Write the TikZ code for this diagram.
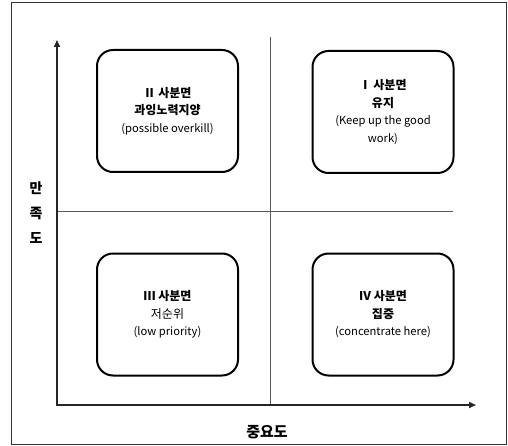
\documentclass[tikz,border=0pt]{standalone}
\usepackage{fontspec}
\setmainfont{Noto Sans CJK KR}
\usetikzlibrary{arrows.meta}
\newcommand{\kr}[1]{{\fontsize{12}{17.5}\selectfont\bfseries #1}}
\newcommand{\krn}[1]{{\fontsize{12}{17.5}\selectfont #1}}
\begin{document}
\begin{tikzpicture}[x=1pt,y=-1pt,
  quad/.style={draw=black,line width=2pt,rounded corners=16pt,minimum width=141pt,minimum height=122pt,align=center,font=\fontsize{11.2}{17.5}\selectfont,inner sep=0pt},
  axis/.style={line width=1.6pt,draw=black!85,{Triangle[length=7pt,width=6pt]}-{Triangle[length=7pt,width=6pt]}},
  divider/.style={line width=1pt,draw=black!65},
  axlabel/.style={font=\fontsize{14}{25}\selectfont\bfseries,align=center,inner sep=0pt}]
\useasboundingbox (0,0) rectangle (508,446);
\draw[line width=1.4pt,draw=black!80] (11.5,2.5) rectangle (506.5,444.5);
\coordinate (O) at (57,405);
\coordinate (yt) at (57,40);
\coordinate (xt) at (476,405);
\coordinate (vt) at (270,37);
\coordinate (vb) at (270,405);
\coordinate (hl) at (57,212);
\coordinate (hr) at (453,212);
\draw[divider] (vt) -- (vb);
\draw[divider] (hl) -- (hr);
\draw[axis] (yt) -- (O) -- (xt);
\node[quad] (q2) at (167.5,111) {\kr{Ⅱ 사분면}\\\kr{과잉노력지양}\\(possible overkill)};
\node[quad] (q1) at (383,112) {\kr{Ⅰ\,사분면}\\\kr{유지}\\(Keep up the good\\work)};
\node[quad] (q3) at (167.5,314.5) {\kr{Ⅲ 사분면}\\\krn{저순위}\\(low priority)};
\node[quad] (q4) at (383,314.5) {\kr{Ⅳ 사분면}\\\kr{집중}\\(concentrate here)};
\node[axlabel] (ylab) at (36,213) {만\\족\\도};
\node[axlabel,font=\fontsize{15}{18}\selectfont\bfseries] (xlab) at (267,432) {중요도};
\end{tikzpicture}
\end{document}
